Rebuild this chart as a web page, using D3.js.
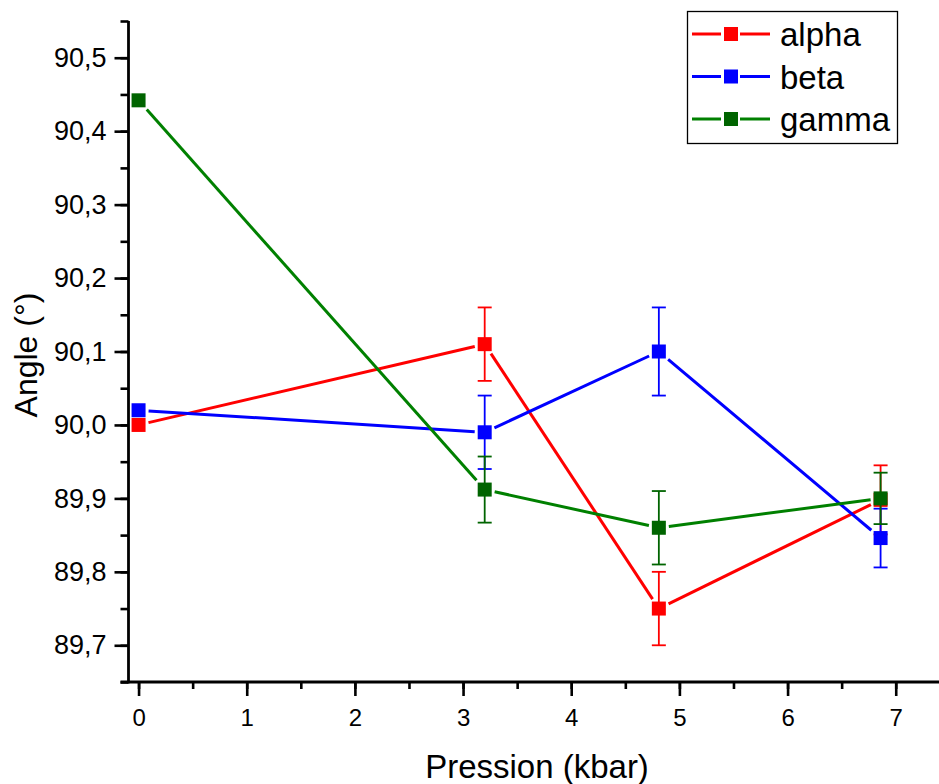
<!DOCTYPE html>
<html>
<head>
<meta charset="utf-8">
<script src="https://cdn.jsdelivr.net/npm/d3@7"></script>
<style>
  html, body { margin: 0; padding: 0; background: #fff; }
  svg { display: block; }
  text { font-family: "Liberation Sans", Arial, Helvetica, sans-serif; fill: #000; }
</style>
</head>
<body>
<svg id="chart" width="939" height="784"></svg>
<script>
// ---- data ----
const pressure = [0, 3.2, 4.81, 6.86];
const seriesNames = ["alpha", "beta", "gamma"];
const alphaValues = [90.0, 90.11, 89.75, 89.898];
const alphaErrors = [0, 0.05, 0.05, 0.047];
const betaValues = [90.02, 89.99, 90.10, 89.846];
const betaErrors = [0, 0.05, 0.06, 0.04];
const gammaValues = [90.442, 89.912, 89.86, 89.90];
const gammaErrors = [0, 0.045, 0.05, 0.035];
const lineColors = ["#ff0000", "#0000ff", "#008000"];
const markerColors = ["#ff0000", "#0000ff", "#006400"];
const xTickValues = [0, 1, 2, 3, 4, 5, 6, 7];
const yTickValues = [89.7, 89.8, 89.9, 90.0, 90.1, 90.2, 90.3, 90.4, 90.5];
const xLabel = "Pression (kbar)";
const yLabel = "Angle (°)";

const series = seriesNames.map((name, i) => ({
  name,
  values: [alphaValues, betaValues, gammaValues][i],
  errors: [alphaErrors, betaErrors, gammaErrors][i],
  line: lineColors[i],
  marker: markerColors[i]
}));

// ---- layout ----
const svg = d3.select("#chart");
const pLeft = 128.5, pRight = 939, pTop = 21, pBottom = 682;
const x = d3.scaleLinear().domain([-0.093, 7.4]).range([pLeft, pRight]);
const y = d3.scaleLinear().domain([89.65, 90.55]).range([pBottom, pTop]);
const fmt = d => d3.format(".1f")(d).replace(".", ",");
const MS = 14; // marker size

// ---- axes ----
const axisG = svg.append("g");
const yMinor = d3.range(0, 19).map(i => 89.65 + i * 0.05);
const yAxisMinor = d3.axisLeft(y).tickValues(yMinor).tickSize(8).tickFormat("");
const yAxisMajor = d3.axisLeft(y).tickValues(yTickValues).tickSize(14).tickPadding(8).tickFormat(fmt);
const xMinor = d3.range(0, 15).map(i => i * 0.5);
const xAxisMinor = d3.axisBottom(x).tickValues(xMinor).tickSize(7).tickFormat("");
const xAxisMajor = d3.axisBottom(x).tickValues(xTickValues).tickSize(14).tickPadding(13).tickFormat(d3.format("d"));

function styleAxis(g) {
  g.select(".domain").remove();
  g.selectAll(".tick line").attr("stroke", "#000").attr("stroke-width", 2.6);
  g.selectAll(".tick text").attr("fill", "#000").style("font-family", '"Liberation Sans", Arial, sans-serif');
}
axisG.append("g").attr("transform", `translate(${pLeft},0)`).call(yAxisMinor).call(styleAxis);
axisG.append("g").attr("transform", `translate(${pLeft},0)`).call(yAxisMajor).call(styleAxis)
  .selectAll(".tick text").style("font-size", "27px");
axisG.append("g").attr("transform", `translate(0,${pBottom})`).call(xAxisMinor).call(styleAxis);
axisG.append("g").attr("transform", `translate(0,${pBottom})`).call(xAxisMajor).call(styleAxis)
  .selectAll(".tick text").style("font-size", "24px");

// axis lines
axisG.append("line").attr("x1", pLeft).attr("x2", pLeft).attr("y1", pTop).attr("y2", pBottom + 1.3)
  .attr("stroke", "#000").attr("stroke-width", 2.8);
axisG.append("line").attr("x1", pLeft - 8).attr("x2", pRight).attr("y1", pBottom).attr("y2", pBottom)
  .attr("stroke", "#000").attr("stroke-width", 2.8);

// axis titles
svg.append("text").attr("x", 537).attr("y", 778)
  .attr("text-anchor", "middle").style("font-size", "33px").text(xLabel);
svg.append("text").attr("transform", "translate(37,355) rotate(-90)")
  .attr("text-anchor", "middle").style("font-size", "32px").text(yLabel);

// ---- data marks ----
function exitDist(dx, dy) {
  const len = Math.hypot(dx, dy);
  const c = Math.abs(dx) / len, s = Math.abs(dy) / len;
  return (MS / 2) / Math.max(c, s) + 3;
}

const plot = svg.append("g");
series.forEach(s => {
  const g = plot.append("g");
  const pts = pressure.map((p, i) => ({ px: x(p), py: y(s.values[i]), v: s.values[i], e: s.errors[i] }));
  for (let i = 0; i < pts.length - 1; i++) {
    const a = pts[i], b = pts[i + 1];
    const dx = b.px - a.px, dy = b.py - a.py, len = Math.hypot(dx, dy);
    const d = exitDist(dx, dy);
    const ux = dx / len, uy = dy / len;
    g.append("line")
      .attr("x1", a.px + ux * d).attr("y1", a.py + uy * d)
      .attr("x2", b.px - ux * d).attr("y2", b.py - uy * d)
      .attr("stroke", s.line).attr("stroke-width", 3).attr("stroke-linecap", "butt");
  }
  pts.filter(p => p.e > 0).forEach(p => {
    const y1 = y(p.v + p.e), y2 = y(p.v - p.e);
    g.append("line").attr("x1", p.px).attr("x2", p.px).attr("y1", y1).attr("y2", y2)
      .attr("stroke", s.marker).attr("stroke-width", 1.8);
    [y1, y2].forEach(yy => g.append("line")
      .attr("x1", p.px - 7).attr("x2", p.px + 7).attr("y1", yy).attr("y2", yy)
      .attr("stroke", s.marker).attr("stroke-width", 1.8));
  });
  g.selectAll("rect.m").data(pts).enter().append("rect")
    .attr("x", p => p.px - MS / 2).attr("y", p => p.py - MS / 2)
    .attr("width", MS).attr("height", MS).attr("fill", s.marker);
});

// ---- legend ----
const lg = svg.append("g");
lg.append("rect").attr("x", 687.5).attr("y", 11.5).attr("width", 210).attr("height", 132)
  .attr("fill", "#fff").attr("stroke", "#000").attr("stroke-width", 1.3);
series.forEach((s, i) => {
  const cy = 34 + i * 42.5;
  lg.append("line").attr("x1", 692).attr("x2", 721).attr("y1", cy).attr("y2", cy)
    .attr("stroke", s.line).attr("stroke-width", 3);
  lg.append("line").attr("x1", 740).attr("x2", 770).attr("y1", cy).attr("y2", cy)
    .attr("stroke", s.line).attr("stroke-width", 3);
  lg.append("rect").attr("x", 731 - MS / 2).attr("y", cy - MS / 2).attr("width", MS).attr("height", MS)
    .attr("fill", s.marker);
  lg.append("text").attr("x", 780).attr("y", cy + 12).style("font-size", "33px").text(s.name);
});
</script>
</body>
</html>
